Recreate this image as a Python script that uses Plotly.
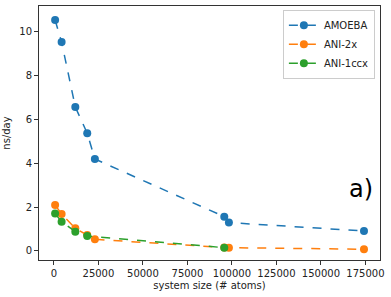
import plotly.graph_objects as go

amoeba_x = [650, 4300, 12000, 18700, 23000, 95700, 98300, 174200]
amoeba_y = [10.5, 9.5, 6.55, 5.35, 4.18, 1.56, 1.29, 0.91]
ani2x_x = [650, 4300, 12000, 18700, 23000, 95700, 98300, 174200]
ani2x_y = [2.09, 1.68, 1.03, 0.73, 0.53, 0.16, 0.15, 0.08]
ani1ccx_x = [650, 4300, 12000, 18700, 95700]
ani1ccx_y = [1.70, 1.33, 0.88, 0.68, 0.15]

x_ticks = [0, 25000, 50000, 75000, 100000, 125000, 150000, 175000]
y_ticks = [0, 2, 4, 6, 8, 10]

fig = go.Figure()
for name, xs, ys, col in [
    ("AMOEBA", amoeba_x, amoeba_y, "#1f77b4"),
    ("ANI-2x", ani2x_x, ani2x_y, "#ff7f0e"),
    ("ANI-1ccx", ani1ccx_x, ani1ccx_y, "#2ca02c"),
]:
    fig.add_trace(go.Scatter(
        x=xs, y=ys, name=name, mode="lines+markers",
        line=dict(color=col, dash="dash", width=1.5),
        marker=dict(color=col, size=8),
    ))

fig.add_annotation(x=0.985, y=0.28, xref="paper", yref="paper", text="a)",
                   showarrow=False, xanchor="right", yanchor="middle",
                   font=dict(size=24, color="black"))

axis_common = dict(showgrid=False, zeroline=False, showline=True, linecolor="#333",
                   linewidth=1, mirror=True, ticks="outside", ticklen=4,
                   tickcolor="#333", tickfont=dict(size=10, color="#222"))

fig.update_layout(
    width=391, height=297,
    margin=dict(l=39, r=11, t=6, b=37),
    paper_bgcolor="white", plot_bgcolor="white",
    font=dict(family="DejaVu Sans", size=10, color="#222"),
    xaxis=dict(range=[-8400, 183200], tickvals=x_ticks,
               ticktext=[str(v) for v in x_ticks],
               title=dict(text="system size (# atoms)", font=dict(size=10), standoff=3),
               **axis_common),
    yaxis=dict(range=[-0.41, 11.14], tickvals=y_ticks,
               title=dict(text="ns/day", font=dict(size=10), standoff=6),
               **axis_common),
    legend=dict(x=0.985, y=0.985, xanchor="right", yanchor="top",
                bgcolor="rgba(255,255,255,0.8)", bordercolor="#ccc", borderwidth=1,
                font=dict(size=10), itemwidth=30, tracegroupgap=0),
    showlegend=True,
)

fig.write_html("out.html", post_script="document.body.style.margin='0';",
               config={"displayModeBar": False})
